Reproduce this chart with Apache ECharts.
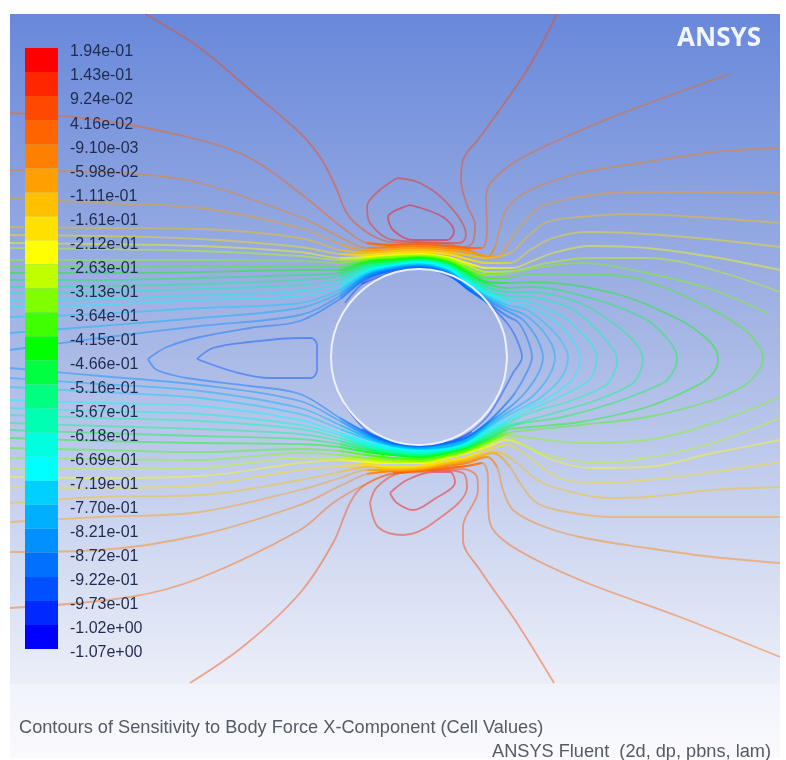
<!DOCTYPE html>
<html><head><meta charset="utf-8">
<style>html,body{margin:0;padding:0;background:#fff}#c{width:786px;height:760px;filter:blur(0.7px)}</style>
<script src="https://cdn.jsdelivr.net/npm/echarts@6/dist/echarts.min.js"></script>
</head><body><div id="c"></div>
<script>
const tickLabels=["1.94e-01","1.43e-01","9.24e-02","4.16e-02","-9.10e-03","-5.98e-02","-1.11e-01","-1.61e-01","-2.12e-01","-2.63e-01","-3.13e-01","-3.64e-01","-4.15e-01","-4.66e-01","-5.16e-01","-5.67e-01","-6.18e-01","-6.69e-01","-7.19e-01","-7.70e-01","-8.21e-01","-8.72e-01","-9.22e-01","-9.73e-01","-1.02e+00","-1.07e+00"];
const bandColors=["#ff0000","#ff2600","#ff4800","#ff6400","#ff8000","#ffa000","#ffc000","#ffe000","#ffff00","#c0ff00","#80ff00","#40ff00","#00ff00","#00ff40","#00ff80","#00ffb0","#00ffe0","#00ffff","#00d0ff","#00b0ff","#0090ff","#0070ff","#0050ff","#0028ff","#0000ff"];
const topLoopInner=[[410,205],[388,217],[393,230],[413,240],[447,240],[454,232],[443,217],[410,205]];
const topLoopOuter=[[397,178],[367,207],[370,223],[393,240],[460,243],[466,235],[447,203],[420,183],[397,178]];
const lowLoopInner=[[390,493],[397,503],[413,510],[433,500],[455,482],[450,472],[433,472],[407,480],[390,493]];
const lowLoopOuter=[[370,503],[378,527],[403,535],[433,523],[467,487],[463,473],[440,470],[400,473],[377,487],[370,503]];
const u02=[[145,14],[200,48],[250,90],[300,133],[322,160],[337,190],[345,210],[355,223],[377,238],[400,243],[419,243],[447,244],[465,247],[473,242],[475,225],[467,205],[461,180],[463,160],[480,137],[527,70],[557,14]];
const l02=[[190,683],[245,645],[300,593],[333,543],[350,503],[362,487],[387,475],[420,472],[463,469],[477,477],[478,490],[463,527],[463,540],[480,570],[515,620],[554,683]];
const u03=[[10,113],[100,120],[200,140],[250,158],[300,193],[343,228],[367,243],[393,245],[419,244],[447,246],[467,248],[482,248],[487,227],[486,197],[493,180],[523,157],[613,117],[730,74]];
const l03=[[10,608],[130,597],[200,578],[300,530],[333,503],[360,487],[393,473],[419,471],[447,468],[467,466],[482,463],[488,477],[488,497],[490,523],[513,547],[580,580],[680,617],[780,657]];
const u04=[[10,170],[100,172],[150,175],[200,183],[300,217],[340,237],[367,248],[393,247],[419,246],[447,248],[467,250],[487,257],[495,247],[500,227],[508,207],[530,190],[580,173],[640,163],[713,152],[780,148]];
const l04=[[10,552],[100,550],[200,535],[300,505],[340,486],[367,474],[393,471],[419,470],[447,466],[467,463],[487,457],[497,467],[503,490],[513,510],[540,525],[580,537],[647,548],[713,557],[780,563]];
const u05=[[10,198],[100,203],[200,208],[300,228],[340,244],[367,251],[393,249],[419,248],[447,250],[467,252],[497,257],[508,243],[523,223],[540,207],[573,198],[613,193],[680,192],[780,193]];
const l05=[[10,522],[100,517],[200,512],[300,490],[340,478],[367,470],[393,470],[419,469],[447,464],[467,461],[493,453],[510,467],[520,483],[537,503],[567,512],[613,517],[680,517],[780,517]];
const u06=[[10,227],[100,228],[200,229],[300,238],[340,250],[367,253],[393,251],[419,250],[447,252],[467,255],[487,258],[510,253],[527,237],[547,222],[580,217],[630,214],[697,217],[780,223]];
const l06=[[10,503],[100,497],[200,495],[300,480],[340,472],[367,467],[393,469],[419,468],[447,463],[467,459],[497,452],[517,463],[537,480],[563,490],[607,498],[647,497],[713,490],[780,487]];
const u07=[[10,235],[100,236],[200,239],[300,247],[340,254],[367,255],[393,253],[419,252],[447,254],[467,259],[487,263],[510,263],[530,250],[553,238],[587,232],[630,233],[697,238],[780,247]];
const l07=[[10,487],[100,488],[200,485],[300,470],[340,466],[367,465],[393,467],[419,466],[447,461],[467,457],[487,450],[507,445],[523,453],[557,477],[597,483],[647,480],[713,472],[780,462]];
const u08=[[10,243],[100,244],[200,246],[300,252],[340,258],[367,257],[393,255],[419,254],[447,257],[467,263],[487,268],[513,268],[530,262],[553,253],[590,246],[647,248],[713,257],[780,270]];
const l08=[[10,477],[100,478],[200,476],[300,463],[340,460],[367,462],[393,463],[419,463],[447,458],[467,453],[487,447],[507,440],[523,445],[553,460],[590,468],[647,467],[713,453],[780,440]];
const u09=[[10,248],[100,249],[200,251],[300,256],[340,260],[367,258],[393,256],[419,255],[447,258],[467,265],[487,272],[513,271],[547,263],[590,258],[647,258],[713,270],[780,292]];
const l09=[[10,468],[100,469],[200,468],[300,458],[340,458],[367,460],[393,462],[419,462],[447,457],[467,452],[487,445],[507,437],[520,443],[547,455],[597,463],[647,458],[713,443],[780,418]];
const u10=[[10,260],[100,260],[200,260],[300,261],[340,263],[367,259],[393,257],[419,256],[447,259],[467,268],[487,275],[507,274],[530,269],[580,263],[647,273],[713,290],[767,313]];
const l10=[[10,458],[100,459],[200,460],[300,453],[340,455],[367,458],[393,460],[419,461],[447,456],[467,451],[487,443],[507,435],[530,438],[580,443],[647,440],[713,423],[780,397]];
const c11=[[10,267],[100,267],[200,266],[300,266],[340,267],[367,261],[393,259],[419,257],[447,261],[467,270],[487,278],[507,278],[530,274],[613,275],[663,287],[713,310],[745,330],[760,348],[763,360],[758,372],[745,385],[713,400],[647,417],[580,425],[530,430],[507,433],[487,442],[467,450],[447,455],[419,459],[393,458],[367,455],[340,451],[300,449],[200,452],[100,450],[10,448]];
const c12=[[10,273],[100,273],[200,272],[300,270],[340,270],[367,262],[393,260],[419,258],[447,262],[467,272],[487,282],[507,283],[530,282],[613,293],[680,320],[706,338],[716,350],[718,360],[714,372],[700,384],[647,407],[580,422],[530,427],[507,430],[487,440],[467,448],[447,453],[419,457],[393,455],[367,452],[340,447],[300,444],[200,443],[100,441],[10,438]];
const c13=[[10,280],[100,280],[200,278],[300,275],[340,273],[367,264],[393,261],[419,259],[447,263],[467,274],[487,284],[507,288],[530,287],[597,300],[647,320],[666,337],[675,350],[677,360],[673,372],[663,383],[613,403],[563,417],[523,423],[507,428],[487,438],[467,447],[447,452],[419,456],[393,454],[367,450],[340,444],[300,439],[200,436],[100,433],[10,430]];
const c14=[[10,287],[100,286],[200,284],[300,280],[340,276],[367,266],[393,263],[419,260],[447,265],[467,276],[487,287],[507,292],[530,292],[580,303],[613,323],[633,340],[641,352],[643,360],[640,372],[632,384],[597,400],[547,415],[525,421],[507,426],[487,436],[467,446],[447,451],[419,455],[393,453],[367,448],[340,441],[300,434],[200,429],[100,426],[10,423]];
const c15=[[10,293],[100,292],[200,289],[300,285],[340,280],[367,268],[393,264],[419,261],[447,266],[467,278],[487,290],[507,296],[530,297],[570,308],[595,328],[610,345],[616,355],[617,362],[614,373],[606,385],[573,400],[530,413],[507,424],[487,434],[467,445],[447,450],[419,453],[393,451],[367,446],[340,438],[300,429],[200,421],[100,418],[10,415]];
const c16=[[10,300],[100,299],[200,295],[300,291],[340,283],[367,270],[393,265],[419,262],[447,267],[467,280],[487,292],[507,299],[530,302],[560,315],[582,333],[593,347],[597,358],[594,372],[587,382],[557,398],[528,411],[507,422],[487,432],[467,443],[447,449],[419,452],[393,449],[367,444],[340,435],[300,425],[200,414],[100,411],[10,408]];
const c17=[[10,307],[100,305],[200,300],[300,296],[340,287],[367,272],[393,266],[419,263],[447,268],[467,282],[487,294],[507,302],[530,307],[553,320],[570,337],[578,350],[580,360],[577,372],[570,382],[548,398],[525,409],[507,420],[487,430],[467,442],[447,448],[419,450],[393,448],[367,442],[340,433],[300,420],[200,406],[100,403],[10,400]];
const c18=[[10,317],[100,314],[200,308],[300,303],[340,290],[367,273],[393,267],[419,264],[447,270],[467,284],[487,296],[507,305],[527,310],[548,326],[562,342],[568,357],[561,378],[540,398],[520,409],[507,416],[487,428],[467,441],[447,447],[419,449],[393,446],[367,439],[340,429],[300,414],[200,398],[100,392],[10,387]];
const c19=[[10,333],[100,326],[200,318],[300,308],[340,293],[367,275],[393,268],[419,265],[447,271],[467,285],[487,298],[507,308],[525,315],[542,330],[552,345],[555,357],[549,376],[533,396],[515,408],[487,426],[467,440],[447,446],[419,448],[393,445],[367,437],[340,425],[300,408],[200,391],[100,384],[10,378]];
const c20=[[10,350],[100,338],[200,326],[300,315],[340,296],[367,276],[393,269],[419,266],[447,272],[467,287],[487,300],[507,311],[522,319],[535,335],[541,348],[543,357],[538,374],[524,394],[510,407],[487,424],[467,438],[447,444],[419,447],[393,444],[367,435],[340,421],[300,401],[200,385],[100,376],[10,368]];
const c21=[[148,359],[167,347],[200,337],[250,328],[300,321],[340,299],[367,278],[393,270],[419,267],[447,273],[467,288],[487,302],[507,316],[518,322],[527,338],[532,357],[527,372],[515,393],[505,405],[487,423],[467,437],[447,443],[419,446],[393,443],[367,433],[340,418],[300,394],[250,386],[187,378],[157,370],[148,359]];
const c22=[[345,303],[367,280],[393,271],[419,267],[447,274],[467,289],[487,303],[507,323],[517,340],[522,357],[513,373],[500,397],[487,417],[467,434],[447,442],[419,445],[393,441],[367,431],[345,405]];
const wake22=[[197,359],[213,348],[250,342],[300,338],[311,338],[317,345],[317,370],[311,378],[270,378],[235,372],[197,359]];
const top23=[[362,284],[393,272],[419,268],[447,275],[472,292]];
const low23=[[362,429],[393,443],[419,445],[447,443],[472,432]];
const wallPoints=[[507,357],[504,334],[495,313],[481,295],[463,281],[442,272],[419,269],[396,272],[375,281],[357,295],[343,313],[334,334],[331,357],[334,380],[343,401],[357,419],[375,433],[396,442],[419,445],[442,442],[463,433],[481,419],[495,401],[504,380],[507,357]];
const contours=[[0,topLoopInner],[0,lowLoopInner],[1,topLoopOuter],[1,lowLoopOuter],[2,u02],[2,l02],[3,u03],[3,l03],[4,u04],[4,l04],[5,u05],[5,l05],[6,u06],[6,l06],[7,u07],[7,l07],[8,u08],[8,l08],[9,u09],[9,l09],[10,u10],[10,l10],[11,c11],[12,c12],[13,c13],[14,c14],[15,c15],[16,c16],[17,c17],[18,c18],[19,c19],[20,c20],[21,c21],[22,c22],[22,wake22],[23,top23],[23,low23]];

const chart=echarts.init(document.getElementById('c'),null,{renderer:'canvas'});
const lineOf=(pts,color,width,opacity,z)=>({type:'line',xAxisIndex:0,yAxisIndex:0,data:pts,smooth:0.35,showSymbol:false,silent:true,z,lineStyle:{color,width,opacity}});
const alpha=(hex,a)=>'rgba('+parseInt(hex.slice(1,3),16)+','+parseInt(hex.slice(3,5),16)+','+parseInt(hex.slice(5,7),16)+','+a+')';
const crestFade=hex=>new echarts.graphic.LinearGradient(320,0,525,0,[
  {offset:0,color:alpha(hex,0)},{offset:0.28,color:alpha(hex,0.85)},{offset:0.68,color:alpha(hex,0.85)},{offset:1,color:alpha(hex,0)}],true);
const series=contours.map(([lvl,pts])=>lineOf(pts,bandColors[lvl],1.8,0.45,2));
// the dense band over and under the wall is drawn again, fading in and out, from the same traced points
contours.forEach(([lvl,pts])=>{
  if(lvl<3||lvl>21) return;
  const near=p=>p[0]>=320&&p[0]<=525;
  const up=pts.filter(p=>near(p)&&p[1]<330&&p[1]>=240);
  const lo=pts.filter(p=>near(p)&&p[1]>390&&p[1]<=476);
  if(up.length>2) series.push(lineOf(up,crestFade(bandColors[lvl]),2.2,1,2));
  if(lo.length>2) series.push(lineOf(lo,crestFade(bandColors[lvl]),2.2,1,2));
});
series.push(lineOf(wallPoints,'#eef1fb',2,1,3));
series.push({type:'bar',xAxisIndex:1,yAxisIndex:1,barWidth:'100%',silent:true,z:5,
  data:bandColors.map(c=>({value:1,itemStyle:{color:c}}))});
chart.setOption({
  animation:false,backgroundColor:'#ffffff',
  graphic:[{type:'rect',z:-1,shape:{x:10,y:684,width:770,height:74},style:{fill:new echarts.graphic.LinearGradient(0,0,0,1,[{offset:0,color:'#f1f3fb'},{offset:1,color:'#fafafd'}])}}],
  title:[
    {text:'ANSYS',right:25,top:26,padding:0,textStyle:{color:'#f2f5fd',fontFamily:'Open Sans',fontWeight:'bold',fontSize:26}},
    {text:'Contours of Sensitivity to Body Force X-Component (Cell Values)',left:19,top:719,padding:0,textStyle:{color:'#555a64',fontFamily:'Liberation Sans',fontWeight:'normal',fontSize:18.2}},
    {text:'ANSYS Fluent  (2d, dp, pbns, lam)',left:492,top:743,padding:0,textStyle:{color:'#555a64',fontFamily:'Liberation Sans',fontWeight:'normal',fontSize:18.2}}
  ],
  grid:[
    {left:10,top:14,width:770,height:670,show:true,borderWidth:0,
     backgroundColor:new echarts.graphic.LinearGradient(0,0,0,1,[{offset:0,color:'#6888da'},{offset:0.5,color:'#a9b9e6'},{offset:1,color:'#ecEff9'}])},
    {left:25,top:48,width:33,height:601},
    {left:25,top:52,width:33,height:601}
  ],
  xAxis:[
    {type:'value',gridIndex:0,min:10,max:780,show:false},
    {type:'value',gridIndex:1,min:0,max:1,show:false},
    {type:'value',gridIndex:2,min:0,max:1,show:false}
  ],
  yAxis:[
    {type:'value',gridIndex:0,min:14,max:684,inverse:true,show:false},
    {type:'category',gridIndex:1,inverse:true,data:bandColors,show:false},
    {type:'value',gridIndex:2,min:0,max:25,interval:1,inverse:true,position:'right',z:6,
     axisLine:{show:false},axisTick:{show:false},splitLine:{show:false},
     axisLabel:{show:true,margin:12,color:'#1f2b4d',fontFamily:'Liberation Sans',fontSize:16,verticalAlign:'middle',
       verticalAlignMinLabel:'middle',verticalAlignMaxLabel:'middle',
       formatter:v=>tickLabels[v]}}
  ],
  series
});
</script></body></html>
